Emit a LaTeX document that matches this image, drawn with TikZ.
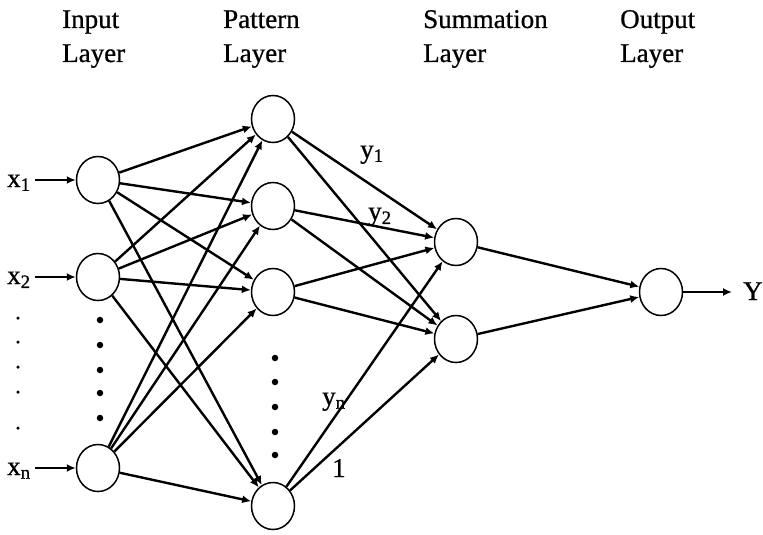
\documentclass[tikz,border=0pt]{standalone}
\usepackage{fontspec}
\setmainfont{Liberation Serif}
\newfontfamily\lblfont[FakeBold=0.8]{Liberation Serif}
\usetikzlibrary{arrows.meta,shapes.geometric}
\begin{document}
\begin{tikzpicture}[x=1pt,y=-1pt,
  neuron/.style={draw,ellipse,line width=1.5pt,minimum width=43pt,minimum height=47pt,inner sep=0pt},
  txt/.style={inner sep=0pt,anchor=base west,font=\lblfont\fontsize{27}{32}\selectfont},
  arr/.style={line width=2.4pt,-{Latex[length=9pt,width=8pt]}},
  bigdot/.style={fill,circle,inner sep=0pt,minimum size=6.5pt},
  smalldot/.style={fill,circle,inner sep=0pt,minimum size=3.5pt}]
\useasboundingbox (0,0) rectangle (763,535);
% headers
\node[txt] (h1a) at (62,28) {Input};
\node[txt] (h1b) at (62,62) {Layer};
\node[txt] (h2a) at (223,28) {Pattern};
\node[txt] (h2b) at (223,62) {Layer};
\node[txt] (h3a) at (423,28) {Summation};
\node[txt] (h3b) at (423,62) {Layer};
\node[txt] (h4a) at (620,28) {Output};
\node[txt] (h4b) at (620,62) {Layer};
% neurons
\node[neuron] (I1) at (98,180) {};
\node[neuron] (I2) at (98,277) {};
\node[neuron] (In) at (98,468) {};
\node[neuron] (P1) at (273,119) {};
\node[neuron] (P2) at (273,206) {};
\node[neuron] (P3) at (273,292) {};
\node[neuron] (Pn) at (273,506) {};
\node[neuron] (S1) at (456,242) {};
\node[neuron] (S2) at (456,339) {};
\node[neuron] (O) at (661,292) {};
% input labels
\node[txt] (x1) at (7,187) {x\textsubscript{1}};
\node[txt] (x2) at (7,284) {x\textsubscript{2}};
\node[txt] (xn) at (7,475) {x\textsubscript{n}};
\coordinate (a1) at (35,180);
\coordinate (a2) at (35,277);
\coordinate (an) at (35,468);
\draw[arr] (a1) -- (I1);
\draw[arr] (a2) -- (I2);
\draw[arr] (an) -- (In);
% input -> pattern
\foreach \i in {I1,I2,In}{
  \foreach \p in {P1,P2,P3,Pn}{
    \draw[arr] (\i) -- (\p);
  }
}
% pattern -> summation
\foreach \p in {P1,P2,P3,Pn}{
  \draw[arr] (\p) -- (S1);
  \draw[arr] (\p) -- (S2);
}
% summation -> output
\draw[arr] (S1) -- (O);
\draw[arr] (S2) -- (O);
\coordinate (yend) at (732,292);
\draw[arr] (O) -- (yend);
\node[txt] (Y) at (743,300) {Y};
% edge labels
\node[txt] (ly1) at (360,158) {y\textsubscript{1}};
\node[txt] (ly2) at (368,220) {y\textsubscript{2}};
\node[txt] (lyn) at (322,405) {y\textsubscript{n}};
\node[txt] (lone) at (332,477) {1};
% dots
\foreach \yy [count=\k] in {318,342,367,392,428}{
  \node[smalldot] (dl\k) at (18,\yy) {};
}
\foreach \yy [count=\k] in {320,345,370,393,418}{
  \node[bigdot] (dm\k) at (100,\yy) {};
}
\foreach \yy [count=\k] in {358,382,407,432,455}{
  \node[bigdot] (dp\k) at (275,\yy) {};
}
\end{tikzpicture}
\end{document}
